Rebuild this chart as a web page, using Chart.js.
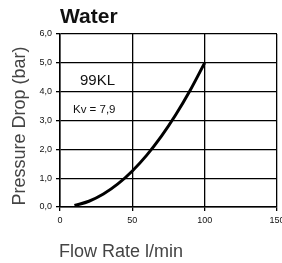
<!DOCTYPE html>
<html>
<head>
<meta charset="utf-8">
<script src="https://cdn.jsdelivr.net/npm/chart.js@4"></script>
<style>
  html, body { margin: 0; padding: 0; background: #fff; }
  #wrap { width: 282px; height: 263px; }
</style>
</head>
<body>
<div id="wrap"><canvas id="waterChart" width="282" height="263"></canvas></div>
<script>
// Values
const flowRates = [10, 20, 30, 40, 50, 60, 70, 80, 90, 100];
const pressureDrops = [0.05, 0.2, 0.45, 0.8, 1.25, 1.8, 2.45, 3.2, 4.05, 5.0];
const chartTitle = 'Water';
const modelName = '99KL';
const kvLabel = 'Kv = 7,9';
const xTitle = 'Flow Rate l/min';
const yTitle = 'Pressure Drop (bar)';

const FONT = '"Liberation Sans", Arial, Helvetica, sans-serif';

// Draw title, axis titles and the notes inside the plot
const textPlugin = {
    id: 'textPlugin',
    afterDraw(chart) {
        const ctx = chart.ctx;
        ctx.save();
        ctx.fillStyle = '#111';
        ctx.textBaseline = 'alphabetic';

        ctx.font = 'bold 21px ' + FONT;
        ctx.textAlign = 'left';
        ctx.fillText(chartTitle, 60, 23);

        ctx.font = '15px ' + FONT;
        ctx.fillText(modelName, 80, 85);

        ctx.font = '11.5px ' + FONT;
        ctx.fillText(kvLabel, 73, 113);

        // axis titles are a thin grey face in the original
        ctx.fillStyle = '#444';
        ctx.font = '18px ' + FONT;
        ctx.fillText(xTitle, 59, 257);

        ctx.translate(25, 126);
        ctx.rotate(-Math.PI / 2);
        ctx.textAlign = 'center';
        ctx.fillText(yTitle, 0, 0);
        ctx.restore();
    }
};

const ctx = document.getElementById('waterChart').getContext('2d');
new Chart(ctx, {
    type: 'line',
    data: {
        datasets: [{
            data: flowRates.map((x, i) => ({ x: x, y: pressureDrops[i] })),
            borderColor: '#000',
            borderWidth: 3,
            pointRadius: 0,
            fill: false,
            cubicInterpolationMode: 'monotone'
        }]
    },
    options: {
        responsive: false,
        animation: false,
        layout: { padding: { top: 34, right: 5, left: 0, bottom: 0 } },
        plugins: {
            legend: { display: false },
            tooltip: { enabled: false }
        },
        scales: {
            x: {
                type: 'linear',
                min: 0,
                max: 150,
                ticks: {
                    stepSize: 50,
                    padding: 4,
                    color: '#111',
                    font: { size: 9, family: FONT },
                    maxRotation: 0
                },
                grid: { color: '#000', lineWidth: 1.3, tickLength: 4 },
                border: { color: '#000', width: 1.5 },
                afterFit(scale) {
                    scale.height = 56;
                    scale.paddingLeft = 0;
                    scale.paddingRight = 0;
                }
            },
            y: {
                min: 0,
                max: 6,
                ticks: {
                    stepSize: 1,
                    padding: 4,
                    color: '#111',
                    font: { size: 9, family: FONT },
                    callback: v => v.toFixed(1).replace('.', ',')
                },
                grid: { color: '#000', lineWidth: 1.3, tickLength: 4 },
                border: { color: '#000', width: 1.5 },
                afterFit(scale) {
                    scale.width = 60;
                    scale.paddingTop = 0;
                    scale.paddingBottom = 0;
                }
            }
        }
    },
    plugins: [textPlugin]
});
</script>
</body>
</html>
